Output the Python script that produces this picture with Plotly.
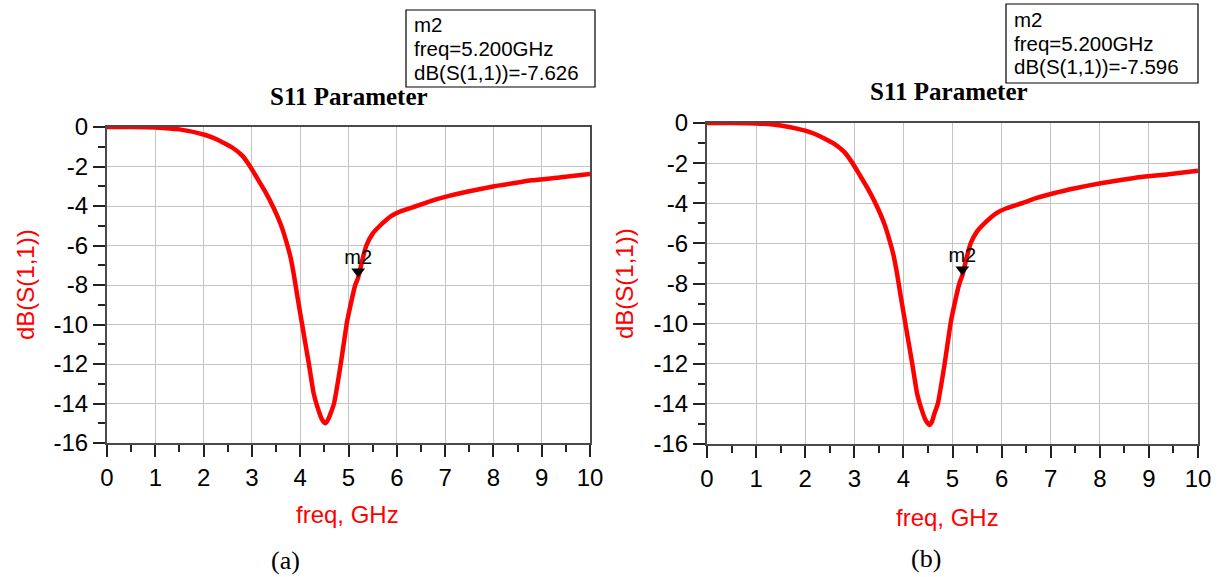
import plotly.graph_objects as go

# ---------------- data ----------------
freq_a = [0.0, 0.5, 1.0, 1.5, 2.0, 2.2, 2.4, 2.6, 2.8, 2.95, 3.1, 3.27, 3.46, 3.6, 3.7,
          3.8, 3.87, 3.95, 4.04, 4.18, 4.28, 4.36, 4.45, 4.52, 4.57, 4.63, 4.7, 4.84, 4.96,
          5.0, 5.14, 5.2, 5.3, 5.37, 5.5, 5.65, 5.89, 6.1, 6.41, 6.7, 7.06, 7.5, 8.02, 8.4,
          8.8, 9.4, 10.0]
s11_a = [0.0, 0.0, -0.02, -0.12, -0.38, -0.55, -0.78, -1.05, -1.45, -1.95, -2.55, -3.25, -4.15, -4.95, -5.7,
         -6.6, -7.5, -8.7, -10.0, -12.0, -13.5, -14.2, -14.8, -15.0, -14.85, -14.5, -14.0, -12.0, -10.0,
         -9.5, -8.0, -7.626, -6.6, -6.0, -5.4, -5.0, -4.5, -4.25, -4.0, -3.75, -3.5, -3.25, -3.0, -2.85,
         -2.7, -2.55, -2.38]

freq_b = [0.0, 0.5, 1.0, 1.5, 2.0, 2.2, 2.4, 2.6, 2.8, 2.95, 3.1, 3.27, 3.46, 3.6, 3.7,
          3.8, 3.87, 3.95, 4.04, 4.18, 4.28, 4.36, 4.45, 4.53, 4.58, 4.63, 4.7, 4.84, 4.96,
          5.0, 5.14, 5.2, 5.3, 5.37, 5.5, 5.65, 5.89, 6.1, 6.41, 6.7, 7.06, 7.5, 8.02, 8.4,
          8.8, 9.4, 10.0]
s11_b = [0.0, 0.0, -0.02, -0.12, -0.38, -0.55, -0.78, -1.05, -1.45, -1.95, -2.55, -3.25, -4.15, -4.95, -5.7,
         -6.6, -7.5, -8.7, -10.0, -12.0, -13.5, -14.2, -14.8, -15.05, -14.9, -14.5, -14.0, -12.0, -10.0,
         -9.5, -8.0, -7.596, -6.6, -6.0, -5.4, -5.0, -4.5, -4.25, -4.0, -3.75, -3.5, -3.25, -3.0, -2.85,
         -2.7, -2.55, -2.38]

marker_freq = [5.2, 5.2]
marker_val = [-7.626, -7.596]
marker_name = "m2"

x_ticks = list(range(0, 11))
y_ticks = list(range(-16, 1, 2))

chart_title = "S11 Parameter"
x_title = "freq, GHz"
y_title = "dB(S(1,1))"
captions = ["(a)", "(b)"]

# ---------------- layout helpers ----------------
W, H = 1217, 577
def px(x):
    return x / W
def py(y):
    return 1 - y / H

SANS = "Arial, Liberation Sans, sans-serif"
SERIF = "Times New Roman, Liberation Serif, serif"
RED = "#ff0000"

panels = [
    dict(freq=freq_a, s11=s11_a, mf=marker_freq[0], mv=marker_val[0],
         xd=[px(107), px(590)], yd=[py(443), py(127)],
         title=(349, 96), xt=(347, 514), yt=(25, 285), cap=(285, 560),
         box=(406, 10, 595, 87), box_text_x=413, lines_y=(25, 48.5, 72)),
    dict(freq=freq_b, s11=s11_b, mf=marker_freq[1], mv=marker_val[1],
         xd=[px(707), px(1198)], yd=[py(444), py(123)],
         title=(949, 91), xt=(947, 517), yt=(624, 284), cap=(926, 558),
         box=(1006, 4, 1198, 83), box_text_x=1013, lines_y=(19.5, 43, 66.5)),
]

fig = go.Figure()
annotations = []
shapes = []

for i, p in enumerate(panels):
    sfx = "" if i == 0 else str(i + 1)
    xa, ya = "x" + sfx, "y" + sfx
    fig.add_trace(go.Scatter(x=p["freq"], y=p["s11"], mode="lines",
                             line=dict(color=RED, width=4.5, shape="spline", smoothing=0.5),
                             xaxis=xa, yaxis=ya, showlegend=False, hoverinfo="skip"))
    # marker: downward triangle whose tip sits on the data point
    fig.add_trace(go.Scatter(x=[p["mf"]], y=[p["mv"]], mode="markers+text",
                             marker=dict(symbol="triangle-up", angle=180, standoff=6,
                                         size=12, color="black"),
                             text=[marker_name], textposition="top center",
                             textfont=dict(family=SANS, size=20, color="black"),
                             xaxis=xa, yaxis=ya, showlegend=False, cliponaxis=False,
                             hoverinfo="skip"))

    axis_common = dict(showgrid=True, gridcolor="#c4c4c4", gridwidth=1,
                       showline=True, linecolor="#4a4a4a", linewidth=2, mirror=True,
                       ticks="outside", ticklen=12, tickwidth=1.5, tickcolor="#222",
                       tickfont=dict(family=SANS, size=24, color="black"),
                       zeroline=False, fixedrange=True, automargin=False)
    fig.layout["xaxis" + sfx] = dict(axis_common, domain=p["xd"], range=[0, 10],
                                     tickvals=x_ticks, ticktext=[str(v) for v in x_ticks],
                                     anchor=ya,
                                     minor=dict(dtick=0.5, tick0=0, ticks="outside", ticklen=7,
                                                tickwidth=1.5, tickcolor="#222", showgrid=False))
    fig.layout["yaxis" + sfx] = dict(axis_common, domain=p["yd"], range=[-16, 0],
                                     tickvals=y_ticks, ticktext=[str(v) for v in y_ticks],
                                     anchor=xa,
                                     minor=dict(dtick=1, tick0=0, ticks="outside", ticklen=7,
                                                tickwidth=1.5, tickcolor="#222", showgrid=False))

    tx, ty = p["title"]
    annotations.append(dict(text="<b>" + chart_title + "</b>", x=px(tx), y=py(ty),
                            xref="paper", yref="paper", showarrow=False,
                            xanchor="center", yanchor="middle",
                            font=dict(family=SERIF, size=25, color="black")))
    xx, xy = p["xt"]
    annotations.append(dict(text=x_title, x=px(xx), y=py(xy), xref="paper", yref="paper",
                            showarrow=False, xanchor="center", yanchor="middle",
                            font=dict(family=SANS, size=24, color=RED)))
    yx, yy = p["yt"]
    annotations.append(dict(text=y_title, x=px(yx), y=py(yy), xref="paper", yref="paper",
                            showarrow=False, xanchor="center", yanchor="middle", textangle=-90,
                            font=dict(family=SANS, size=24, color=RED)))
    cx, cy = p["cap"]
    annotations.append(dict(text=captions[i], x=px(cx), y=py(cy), xref="paper", yref="paper",
                            showarrow=False, xanchor="center", yanchor="middle",
                            font=dict(family=SERIF, size=26, color="black")))
    x0, y0, x1, y1 = p["box"]
    shapes.append(dict(type="rect", xref="paper", yref="paper",
                       x0=px(x0), x1=px(x1), y0=py(y1), y1=py(y0),
                       line=dict(color="black", width=1.2), fillcolor="white"))
    lines = [marker_name, "freq=%.3fGHz" % p["mf"], "dB(S(1,1))=%.3f" % p["mv"]]
    for t, ly in zip(lines, p["lines_y"]):
        annotations.append(dict(text=t, x=px(p["box_text_x"]), y=py(ly), xref="paper", yref="paper",
                                showarrow=False, xanchor="left", yanchor="middle", borderpad=0,
                                font=dict(family=SANS, size=20.5, color="black")))

fig.update_layout(width=W, height=H, autosize=False,
                  margin=dict(l=0, r=0, t=0, b=0, pad=0),
                  paper_bgcolor="white", plot_bgcolor="white",
                  annotations=annotations, shapes=shapes, showlegend=False)

fig.write_html("out.html", config={"displayModeBar": False, "responsive": False},
               post_script="document.body.style.margin='0';document.documentElement.style.overflow='hidden';")
